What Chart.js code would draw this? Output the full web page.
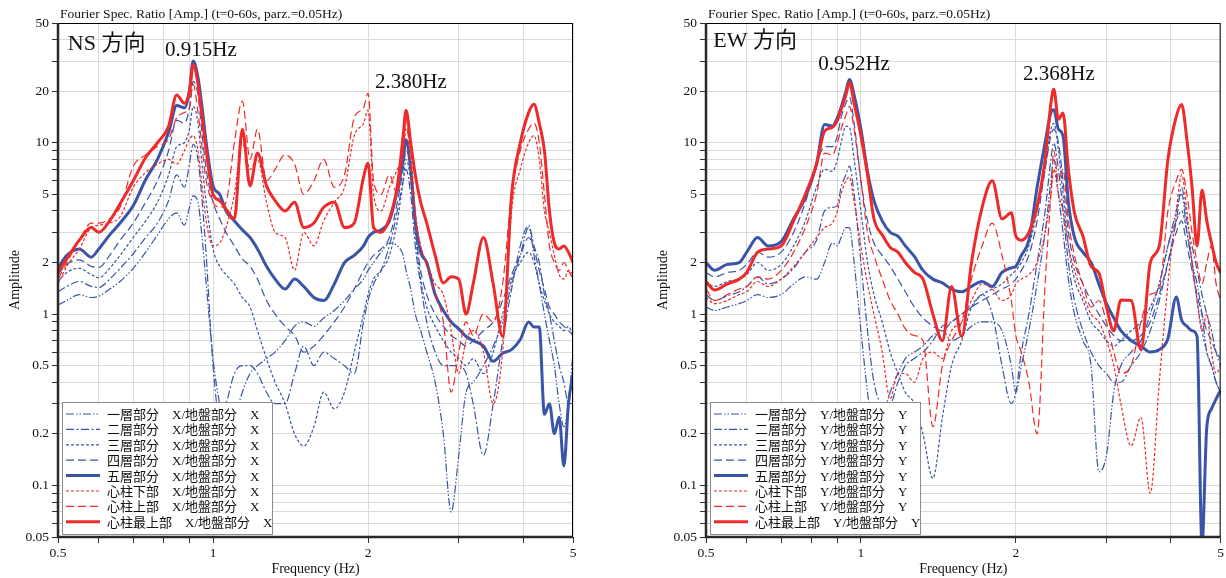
<!DOCTYPE html>
<html>
<head>
<meta charset="utf-8">
<script src="https://cdn.jsdelivr.net/npm/chart.js@4.4.1/dist/chart.umd.min.js"></script>
<style>
  html, body { margin: 0; padding: 0; background: #fff; }
  #wrap { position: relative; width: 1226px; height: 578px; }
  .panel { position: absolute; top: 0; }
  #ns-chart { left: 0; }
  #ew-chart { left: 648px; }
</style>
</head>
<body>
<div id="wrap">
  <canvas id="ns-chart" class="panel" width="613" height="578"></canvas>
  <canvas id="ew-chart" class="panel" width="578" height="578"></canvas>
</div>
<script>
// frequency points (Hz), shared by every series
const freq = [
  0.50, 0.52, 0.55, 0.58, 0.60, 0.63, 0.66, 0.70, 0.74, 0.78,
  0.82, 0.85, 0.88, 0.90, 0.915, 0.935, 0.95, 0.97, 1.00, 1.03,
  1.06, 1.10, 1.14, 1.18, 1.22, 1.27, 1.32, 1.38, 1.44, 1.50,
  1.57, 1.64, 1.72, 1.80, 1.88, 1.96, 2.00, 2.05, 2.12, 2.20,
  2.28, 2.34, 2.37, 2.42, 2.47, 2.53, 2.60, 2.70, 2.80, 2.90,
  3.00, 3.10, 3.20, 3.35, 3.50, 3.65, 3.80, 3.95, 4.10, 4.20,
  4.30, 4.40, 4.50, 4.60, 4.70, 4.80, 4.90, 5.00
];

const xGrid = [0.5, 0.6, 0.7, 0.8, 0.9, 1, 2, 3, 4, 5];
const xTickLabels = [0.5, 1, 2, 5];
const yGrid = [0.05, 0.06, 0.07, 0.08, 0.09, 0.1, 0.2, 0.3, 0.4, 0.5, 0.6, 0.7, 0.8, 0.9,
  1, 2, 3, 4, 5, 6, 7, 8, 9, 10, 20, 30, 40, 50];
const yTickLabels = [0.05, 0.1, 0.2, 0.5, 1, 2, 5, 10, 20, 50];

const partNames = ['一層部分', '二層部分', '三層部分', '四層部分', '五層部分', '心柱下部', '心柱上部', '心柱最上部'];

// NS direction
const nsFloor1 = [
  1.13, 1.2, 1.3, 1.25, 1.27, 1.4, 1.55, 1.85, 2.3, 2.9,
  3.6, 3.9, 3.3, 4.2, 4.9, 4.5, 3.0, 1.5, 0.55, 0.3,
  0.22, 0.25, 0.35, 0.45, 0.5, 0.55, 0.6, 0.7, 0.85, 0.9,
  0.85, 0.95, 1.05, 1.2, 1.4, 1.6, 1.8, 2.0, 2.3, 2.6,
  2.5, 2.2, 1.8, 1.4, 1.0, 0.8, 0.6, 0.4, 0.2, 0.07,
  0.15, 0.35, 0.4, 0.5, 0.65, 0.9, 1.5, 2.2, 3.2, 2.2,
  1.5, 1.0, 0.7, 0.5, 0.3, 0.22, 0.3, 0.6
];
const nsFloor2 = [
  1.35, 1.45, 1.55, 1.45, 1.43, 1.6, 1.85, 2.25, 2.8, 3.4,
  4.6, 6.5, 5.5, 7.5, 9.8, 8, 5, 2.2, 0.5, 0.25,
  0.3, 0.45, 0.5, 0.5, 0.45, 0.35, 0.3, 0.3, 0.45, 0.65,
  0.5, 0.6, 0.55, 0.5, 0.45, 0.9, 1.2, 1.5, 1.8, 2.5,
  4, 6, 7, 5, 2.5, 1.5, 0.9, 0.6, 0.5, 0.5,
  0.5, 0.45, 0.3, 0.15, 0.3, 0.7, 1.4, 2.5, 3.3, 2.5,
  2.0, 1.3, 1.0, 0.7, 0.5, 0.4, 0.3, 0.3
];
const nsFloor3 = [
  1.55, 1.75, 1.85, 1.7, 1.63, 1.85, 2.2, 2.8, 3.5, 4.5,
  6.5, 9.5, 10, 12, 16.3, 13, 8, 4.5, 2.4, 1.9,
  1.7, 1.5, 1.25, 1.1, 0.8, 0.55, 0.4, 0.3, 0.2, 0.17,
  0.22, 0.35, 0.28, 0.35, 0.6, 1.0, 1.3, 1.6, 1.8, 2.2,
  3.5, 6, 8, 6, 3, 1.6, 1.1, 0.85, 0.7, 0.6,
  0.55, 0.5, 0.55, 0.45, 0.6, 1.0, 1.6, 2.0, 2.3, 2.0,
  1.5, 1.2, 1.0, 0.9, 0.85, 0.8, 0.85, 0.75
];
const nsFloor4 = [
  1.7, 1.95, 2.07, 1.9, 1.87, 2.2, 2.7, 3.4, 4.5, 6,
  9, 13.5, 13, 16, 22.8, 19, 12, 7, 4.5, 3.6,
  3.0, 2.5, 2.1, 1.9, 1.6, 1.2, 1.0, 0.85, 0.75, 0.6,
  0.65, 0.75, 0.9, 1.1, 1.4, 1.8, 2.0, 2.2, 2.4, 2.8,
  4.5, 7, 9, 7, 3.2, 1.8, 1.3, 1.0, 0.85, 0.75,
  0.7, 0.65, 0.7, 0.8, 0.9, 1.2, 1.7, 2.2, 2.8, 2.4,
  1.8, 1.4, 1.1, 1.0, 0.9, 0.85, 0.8, 0.75
];
const nsFloor5 = [
  1.85, 2.2, 2.4, 2.15, 2.4, 2.9, 3.4, 4.3, 6.1, 8,
  11.5, 16.5, 16, 20, 30, 24, 17, 10, 5.6, 5.0,
  4.0, 3.5, 3.1, 2.8, 2.4, 1.9, 1.6, 1.4, 1.6, 1.45,
  1.25, 1.2, 1.5, 2.0, 2.2, 2.5, 2.8, 3.0, 3.1, 3.5,
  5.3, 8, 10.4, 7, 3.5, 2.3, 2.0, 1.3, 1.05, 0.9,
  0.82, 0.74, 0.7, 0.65, 0.53, 0.59, 0.62, 0.71, 0.9, 0.84,
  0.84, 0.26, 0.3, 0.2, 0.25, 0.13, 0.3, 0.45
];
const nsCoreLow = [
  1.5, 1.9, 2.4, 3.2, 3.3, 3.4, 3.7, 5.5, 6.7, 7.5,
  8, 7.5, 9, 10.5, 11, 9, 6, 3.5, 2.5, 2.6,
  3.2, 5, 10, 7, 8, 4.5, 3.0, 2.8, 1.8, 3.0,
  2.5, 3.5, 4.5, 5.5, 11, 13, 15.5, 5, 4, 5.5,
  7, 8.5, 12, 9, 4, 2.5, 2.0, 1.5, 1.3, 0.8,
  0.45, 0.7, 0.8, 0.6, 0.3, 0.6, 4, 7, 10, 11,
  8, 4, 3, 2.2, 1.7, 1.6, 1.8, 1.7
];
const nsCoreUp = [
  1.6, 2.0, 2.7, 3.4, 3.4, 3.6, 4.2, 7.3, 8.5, 9.5,
  10.5, 14, 15, 16, 22, 15, 10, 6, 4.5, 4.2,
  4.5, 10, 17.5, 8, 12, 6, 7, 8.5, 7.5, 5,
  6, 8, 5.5, 6.5, 14, 16, 19.5, 6, 5, 6.5,
  5, 9, 14, 7, 3.5, 2.5, 1.9, 1.3, 0.9, 0.35,
  0.6, 0.9, 0.75, 1.0, 0.9, 1.5, 5, 9, 12, 13,
  10, 5, 2.5, 2.0, 1.8, 2.0, 1.8, 1.6
];
const nsCoreTop = [
  1.75, 2.1, 2.7, 3.2, 3.0, 3.5, 4.4, 6.0, 8.2, 10,
  12.5, 19, 17, 20, 28.5, 22, 15, 9, 5.0, 4.6,
  4.1, 3.6, 12, 5.6, 8.7, 5.6, 4.6, 4.0, 4.5, 3.2,
  3.4, 4.2, 4.5, 3.2, 3.4, 6.3, 7.6, 3.2, 3.0, 3.6,
  5.6, 11, 15.5, 10, 6.5, 4.5, 3.4, 2.2, 1.52, 1.65,
  1.6, 1.0, 1.5, 2.8, 1.5, 0.74, 5.0, 10, 15, 16.8,
  13, 9, 4, 2.6, 2.4, 2.5, 2.3, 2.0
];

// EW direction
const ewFloor1 = [
  1.1, 1.05, 1.1, 1.15, 1.2, 1.3, 1.25, 1.3, 1.5, 1.65,
  1.6, 2.0, 2.6, 2.5, 2.8, 3.2, 3.2, 2.0, 0.8, 0.35,
  0.2, 0.25, 0.35, 0.45, 0.55, 0.6, 0.65, 0.75, 0.8, 0.7,
  0.75, 0.85, 0.9, 0.9, 0.8, 0.5, 0.35, 0.5, 0.8, 1.5,
  3, 6, 8, 5, 3, 1.6, 1.0, 0.7, 0.5, 0.12,
  0.15, 0.35, 0.5, 0.6, 0.7, 1.0, 1.5, 2.5, 4, 5,
  3, 2, 1.5, 1.0, 0.6, 0.5, 0.4, 0.35
];
const ewFloor2 = [
  1.3, 1.2, 1.28, 1.35, 1.45, 1.65, 1.5, 1.6, 1.85, 2.3,
  2.7, 4.0, 4.2, 4.3, 5.5, 6.5, 7.3, 5, 2.0, 0.8,
  0.4, 0.3, 0.3, 0.4, 0.5, 0.55, 0.6, 0.7, 0.85, 0.9,
  1.0, 1.1, 1.3, 1.0, 0.5, 0.3, 0.35, 0.6, 1.0, 2.0,
  4, 8, 10, 7, 4, 2, 1.2, 0.8, 0.6, 0.5,
  0.45, 0.4, 0.4, 0.5, 0.6, 0.8, 1.2, 2.0, 3.5, 5.5,
  3.5, 2.5, 1.8, 1.3, 1.0, 0.8, 0.6, 0.5
];
const ewFloor3 = [
  1.55, 1.45, 1.55, 1.6, 1.7, 2.0, 1.8, 1.95, 2.5, 3.5,
  5.5, 7, 6.8, 8, 10, 12.5, 12.3, 8, 4, 2.0,
  1.3, 0.9, 0.6, 0.45, 0.35, 0.3, 0.2, 0.11, 0.25, 0.5,
  0.7, 1.1, 1.3, 1.4, 1.5, 1.7, 1.8, 2.0, 2.5, 4,
  7, 12, 13, 9, 5, 2.5, 1.6, 1.2, 0.9, 0.8,
  0.7, 0.65, 0.7, 0.8, 0.9, 1.1, 1.5, 2.5, 3.5, 4,
  3, 2, 1.2, 0.8, 0.6, 0.5, 0.4, 0.35
];
const ewFloor4 = [
  1.75, 1.65, 1.75, 1.8, 1.95, 2.3, 2.15, 2.3, 3.0, 4.5,
  7.5, 9.5, 9.5, 11, 14, 17, 18.5, 13, 6, 3.5,
  2.6, 2.2, 1.9, 1.6, 1.35, 1.1, 0.95, 0.85, 0.8, 0.9,
  1.0, 1.1, 1.2, 1.3, 1.4, 1.5, 1.6, 1.8, 2.2, 3.5,
  7, 11, 12, 10, 6, 3, 2, 1.5, 1.2, 1.0,
  0.85, 0.75, 0.7, 0.7, 0.75, 0.9, 1.3, 2, 3, 3.5,
  2.5, 1.8, 1.3, 1.0, 0.8, 0.7, 0.6, 0.55
];
const ewFloor5 = [
  2.0, 1.8, 1.95, 2.0, 2.3, 2.8, 2.5, 2.65, 3.6, 4.8,
  7.5, 12.8, 12.5, 14, 16, 20, 23.4, 19, 12, 6.8,
  4.6, 3.5, 3.0, 2.85, 2.5, 2.17, 1.8, 1.6, 1.52, 1.4,
  1.35, 1.45, 1.55, 1.45, 1.75, 1.86, 1.9, 2.2, 2.7, 5.5,
  10, 15, 15.6, 12, 11, 4.5, 2.8, 2.3, 2.0, 1.5,
  1.15, 0.95, 0.8, 0.7, 0.65, 0.6, 0.62, 0.72, 1.26, 0.92,
  0.85, 0.8, 0.74, 0.045, 0.22, 0.28, 0.32, 0.36
];
const ewCoreLow = [
  1.25, 1.15, 1.2, 1.3, 1.35, 1.55, 1.45, 1.6, 1.9, 2.3,
  2.8, 3.2, 3.4, 4.0, 5, 6, 6.3, 4.5, 2.5, 1.5,
  1.0, 0.6, 0.32, 0.45, 0.45, 0.4, 0.55, 0.6, 0.55, 0.8,
  0.9, 1.2, 1.5, 1.4, 1.2, 1.3, 1.5, 1.6, 1.7, 2.0,
  3, 5, 7, 5, 4, 2.5, 1.8, 1.3, 1.0, 0.9,
  0.7, 0.5, 0.3, 0.17, 0.25, 0.09, 0.4, 1.5, 4, 6.5,
  4, 2, 1.2, 0.8, 1.0, 0.6, 0.45, 0.5
];
const ewCoreUp = [
  1.4, 1.2, 1.3, 1.4, 1.45, 1.65, 1.6, 1.8, 2.3, 3.2,
  5, 8.7, 8.5, 10, 12, 14.5, 16.3, 12, 6, 3.0,
  2.2, 1.6, 1.2, 1.0, 0.82, 0.75, 0.7, 0.22, 0.5, 0.7,
  0.9, 1.6, 2.5, 3.4, 2.2, 1.2, 0.75, 0.6, 0.4, 0.2,
  1.5, 5, 9, 6, 7, 3.5, 2.2, 1.5, 1.1, 1.2,
  0.9, 0.6, 0.45, 0.5, 0.9, 1.3, 1.4, 4, 6, 7,
  5, 3.0, 2.0, 1.5, 2.0, 2.5, 1.5, 1.2
];
const ewCoreTop = [
  1.55, 1.38, 1.5, 1.6, 1.75, 2.3, 2.4, 2.5, 3.5, 5.0,
  7.5, 11.7, 12.3, 13.5, 15.6, 19, 22.5, 17, 11, 6.5,
  3.6, 2.9, 2.45, 2.3, 2.0, 1.75, 1.6, 1.0, 0.7, 1.45,
  0.74, 2.0, 4.2, 6.0, 3.6, 3.9, 2.85, 2.7, 3.0, 4.25,
  8, 17, 20.5, 13.7, 14.9, 7, 3.9, 2.85, 1.9, 1.74,
  1.1, 0.8, 1.21, 1.2, 0.62, 2.0, 2.5, 8, 14.2, 16.7,
  10.4, 5.5, 2.5, 5.3, 3.5, 2.6, 2.0, 1.74
];

const BLUE = '#3a55a8';
const RED = '#ee2a2a';
const lineStyles = [
  { color: BLUE, width: 1.2, dash: [8, 2, 1.5, 2, 1.5, 2] },
  { color: BLUE, width: 1.2, dash: [8, 2.5, 2, 2.5] },
  { color: BLUE, width: 1.2, dash: [3, 2] },
  { color: BLUE, width: 1.2, dash: [8, 4] },
  { color: BLUE, width: 3, dash: [] },
  { color: RED, width: 1.2, dash: [3, 2] },
  { color: RED, width: 1.2, dash: [8, 4] },
  { color: RED, width: 3, dash: [] }
];

const SERIF = '"Liberation Serif", "Times New Roman", serif';
const MIXED = '"Liberation Serif", "Noto Sans CJK JP", serif';
Chart.defaults.font.family = SERIF;
Chart.defaults.color = '#111';

// titles, annotations, frame and legend
const decorPlugin = {
  id: 'decor',
  afterDraw(chart, args, opts) {
    const ctx = chart.ctx;
    const a = chart.chartArea;
    const xs = chart.scales.x, ys = chart.scales.y;
    ctx.save();

    ctx.strokeStyle = '#000';
    ctx.lineWidth = 1;
    ctx.setLineDash([]);
    ctx.strokeRect(a.left + 0.5, a.top + 0.5, a.right - a.left - 1, a.bottom - a.top - 1);
    ctx.strokeStyle = '#2a2a2a';
    ctx.lineWidth = 2.5;
    ctx.beginPath();
    ctx.moveTo(a.left, a.top);
    ctx.lineTo(a.left, a.bottom);
    ctx.lineTo(a.right, a.bottom);
    ctx.stroke();

    ctx.fillStyle = '#111';
    ctx.textBaseline = 'alphabetic';
    ctx.textAlign = 'left';
    ctx.font = '13.5px ' + SERIF;
    ctx.fillText('Fourier Spec. Ratio [Amp.] (t=0-60s, parz.=0.05Hz)', a.left + 2, 18);

    ctx.font = '14px ' + SERIF;
    ctx.textAlign = 'center';
    ctx.fillText('Frequency (Hz)', (a.left + a.right) / 2, 573);
    ctx.save();
    ctx.translate(19, (a.top + a.bottom) / 2);
    ctx.rotate(-Math.PI / 2);
    ctx.fillText('Amplitude', 0, 0);
    ctx.restore();

    ctx.textAlign = 'left';
    opts.notes.forEach(n => {
      ctx.font = n.size + 'px ' + MIXED;
      ctx.fillText(n.text, xs.getPixelForValue(n.x), ys.getPixelForValue(n.y));
    });

    // legend box
    const bx = a.left + 4, by = 402, bw = 210, bh = 132;
    ctx.fillStyle = '#fff';
    ctx.fillRect(bx, by, bw, bh);
    ctx.strokeStyle = '#8c8c8c';
    ctx.lineWidth = 1;
    ctx.strokeRect(bx + 0.5, by + 0.5, bw, bh);
    ctx.font = '13px ' + MIXED;
    chart.data.datasets.forEach((ds, i) => {
      const ly = by + 12 + i * 15.4;
      ctx.strokeStyle = ds.borderColor;
      ctx.lineWidth = ds.borderWidth;
      ctx.setLineDash(ds.borderDash);
      ctx.beginPath();
      ctx.moveTo(bx + 4, ly);
      ctx.lineTo(bx + 38, ly);
      ctx.stroke();
      ctx.setLineDash([]);
      ctx.fillStyle = '#111';
      ctx.fillText(ds.label, bx + 45, ly + 5);
    });
    ctx.restore();
  }
};

function buildChart(canvasId, series, axisName, padRight, notes) {
  const datasets = series.map((vals, i) => ({
    label: partNames[i] + '\u3000' + axisName + '/地盤部分\u3000' + axisName,
    data: freq.map((f, k) => ({ x: f, y: vals[k] })),
    borderColor: lineStyles[i].color,
    borderWidth: lineStyles[i].width,
    borderDash: lineStyles[i].dash,
    pointRadius: 0,
    fill: false,
    cubicInterpolationMode: 'monotone',
    order: series.length - i
  }));

  return new Chart(document.getElementById(canvasId), {
    type: 'line',
    data: { datasets: datasets },
    options: {
      responsive: false,
      animation: false,
      layout: { padding: { left: 0, top: 23, right: padRight, bottom: 0 } },
      plugins: {
        legend: { display: false },
        tooltip: { enabled: false },
        decor: { notes: notes }
      },
      scales: {
        x: {
          type: 'logarithmic',
          min: 0.5,
          max: 5,
          afterBuildTicks: s => { s.ticks = xGrid.map(v => ({ value: v })); },
          afterFit: s => { s.height = 41; },
          ticks: {
            autoSkip: false,
            maxRotation: 0,
            padding: 2,
            font: { size: 13.5 },
            callback: v => xTickLabels.includes(v) ? String(v) : ''
          },
          grid: { color: '#dadada', tickColor: '#333', tickLength: 6 },
          border: { display: false }
        },
        y: {
          type: 'logarithmic',
          min: 0.05,
          max: 50,
          afterBuildTicks: s => { s.ticks = yGrid.map(v => ({ value: v })); },
          afterFit: s => { s.width = 58; },
          ticks: {
            autoSkip: false,
            padding: 3,
            font: { size: 13.5 },
            callback: v => yTickLabels.includes(v) ? String(v) : ''
          },
          grid: { color: '#dadada', tickColor: '#333', tickLength: 6 },
          border: { display: false }
        }
      }
    },
    plugins: [decorPlugin]
  });
}

document.addEventListener('DOMContentLoaded', function() {
  buildChart('ns-chart',
    [nsFloor1, nsFloor2, nsFloor3, nsFloor4, nsFloor5, nsCoreLow, nsCoreUp, nsCoreTop],
    'X', 40,
    [
      { text: 'NS 方向', x: 0.5225, y: 35, size: 22 },
      { text: '0.915Hz', x: 0.807, y: 32, size: 21 },
      { text: '2.380Hz', x: 2.064, y: 20.8, size: 21 }
    ]);
  buildChart('ew-chart',
    [ewFloor1, ewFloor2, ewFloor3, ewFloor4, ewFloor5, ewCoreLow, ewCoreUp, ewCoreTop],
    'Y', 5,
    [
      { text: 'EW 方向', x: 0.5165, y: 36, size: 22 },
      { text: '0.952Hz', x: 0.826, y: 26.5, size: 21 },
      { text: '2.368Hz', x: 2.066, y: 23.2, size: 21 }
    ]);
});
</script>
</body>
</html>
